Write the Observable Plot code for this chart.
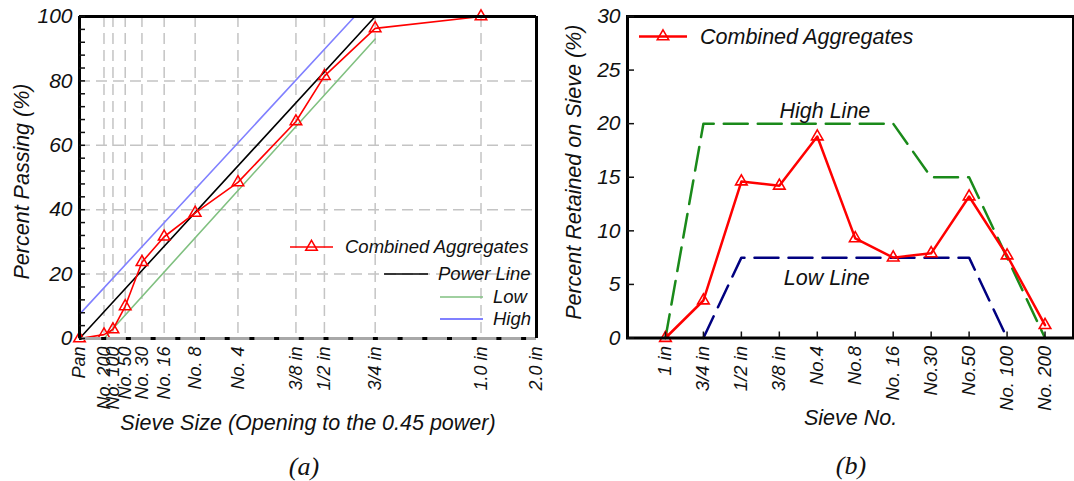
<!DOCTYPE html>
<html><head><meta charset="utf-8">
<script src="https://cdn.jsdelivr.net/npm/d3@7"></script>
<script src="https://cdn.jsdelivr.net/npm/@observablehq/plot@0.6"></script>
<style>
body{margin:0;background:#fff;}
#wrap{position:relative;width:1074px;height:481px;overflow:hidden;}
#wrap svg{position:absolute;top:0;}
.cap{position:absolute;font-family:"Liberation Serif","Times New Roman",serif;font-style:italic;font-size:26px;color:#111;transform:translate(-50%,-50%);white-space:nowrap;}
</style></head><body><div id="wrap"></div>
<script>
// ---------- Chart (a): gradation on 0.45 power chart ----------
const sieveLabelsA = ["Pan","No. 200","No. 100","No. 50","No. 30","No. 16","No. 8","No. 4","3/8 in","1/2 in","3/4 in","1.0 in","2.0 in"];
const sieveOpeningsA = [0, 0.075, 0.15, 0.3, 0.6, 1.18, 2.36, 4.75, 9.5, 12.5, 19, 37.5, 50];
const combinedPassing = [0, 1.2, 2.8, 10, 23.7, 31.6, 39, 48.5, 67.4, 81.5, 96.3, 100];
const powerOpenings = [0, 19];
const powerPassing = [0, 100];
const lowOpenings = [0.075, 19];
const lowPassing = [0, 93];
const highOpenings = [0, 16.2];
const highPassing = [7.5, 100];
const yTicksA = [0, 20, 40, 60, 80, 100];
const xLabelA = "Sieve Size (Opening to the 0.45 power)";
const yLabelA = "Percent Passing (%)";

// ---------- Chart (b): retained on each sieve ----------
const sieveLabelsB = ["1 in","3/4 in","1/2 in","3/8 in","No.4","No.8","No. 16","No.30","No.50","No. 100","No. 200"];
const combinedRetained = [0, 3.5, 14.6, 14.2, 18.8, 9.3, 7.5, 7.9, 13.2, 7.7, 1.2];
const highLineB = [0, 20, 20, 20, 20, 20, 20, 15, 15, 7.5, 0];
const lowLineB = [null, 0, 7.5, 7.5, 7.5, 7.5, 7.5, 7.5, 7.5, 0, null];
const yTicksB = [0, 5, 10, 15, 20, 25, 30];
const annotationsB = [
  {label: "High Line", x: 5.2, y: 21.2},
  {label: "Low Line", x: 5.25, y: 5.55}
];
const xLabelB = "Sieve No.";
const yLabelB = "Percent Retained on Sieve (%)";

const FONT = '"Liberation Sans", Arial, sans-serif';
const baseStyle = {fontFamily: FONT, fontStyle: "italic", fontSize: "18px", color: "#111", background: "transparent", overflow: "visible"};

const pairs = (xs, ys) => xs.map((x, i) => ({x, y: ys[i]}));
const combA = combinedPassing.map((p, i) => ({x: sieveOpeningsA[i], y: p}));
const labelMapA = new Map(sieveOpeningsA.map((d, i) => [d, sieveLabelsA[i]]));
const grid = {stroke: "#c4c4c4", strokeWidth: 1.5, strokeDasharray: "11,6"};

const chartA = Plot.plot({
  width: 540, height: 440,
  marginLeft: 79, marginRight: 4, marginTop: 16, marginBottom: 102,
  style: baseStyle,
  x: {type: "pow", exponent: 0.45, domain: [0, 50], label: null},
  y: {domain: [0, 100], label: null},
  marks: [
    Plot.ruleX(sieveOpeningsA.slice(1, -1), grid),
    Plot.ruleY(yTicksA.slice(1, -1), grid),
    Plot.line(pairs(highOpenings, highPassing), {x: "x", y: "y", stroke: "#8080ff", strokeWidth: 1.6}),
    Plot.line(pairs(lowOpenings, lowPassing), {x: "x", y: "y", stroke: "#80c080", strokeWidth: 1.6}),
    Plot.line(pairs(powerOpenings, powerPassing), {x: "x", y: "y", stroke: "black", strokeWidth: 1.6}),
    Plot.line(combA, {x: "x", y: "y", stroke: "red", strokeWidth: 1.6}),
    Plot.dot(combA, {x: "x", y: "y", symbol: "triangle", r: 4.3, stroke: "red", strokeWidth: 1.5, fill: "none"}),
    Plot.ruleY([0], {stroke: "#a8a8a8", strokeWidth: 3}),
    Plot.ruleY([0], {stroke: "black", strokeWidth: 3, strokeDasharray: "5,19.7", strokeDashoffset: 2.5}),
    Plot.ruleY([100], {stroke: "black", strokeWidth: 3}),
    Plot.ruleX([0, 50], {stroke: "black", strokeWidth: 3}),
    Plot.axisY({ticks: d3.range(0, 101, 4), tickSize: -6, tickFormat: () => "", strokeWidth: 1.5, label: null}),
    Plot.axisY({ticks: yTicksA, tickSize: 0, tickPadding: 7, fontSize: 21, label: null}),
    Plot.axisX({ticks: sieveOpeningsA, tickFormat: d => labelMapA.get(d), tickSize: 0, tickRotate: -90, tickPadding: 8, fontSize: 18, label: null}),
    Plot.text([yLabelA], {text: d => d, frameAnchor: "left", textAnchor: "middle", rotate: -90, dx: -57, dy: 4, fontSize: 21.5}),
    Plot.text([xLabelA], {text: d => d, frameAnchor: "bottom", textAnchor: "middle", dy: 91, fontSize: 21.5})
  ]
});

const combB = combinedRetained.map((v, i) => ({x: i + 1, y: v}));
const highB = highLineB.map((v, i) => ({x: i + 1, y: v}));
const lowB = lowLineB.map((v, i) => ({x: i + 1, y: v})).filter(d => d.y != null);
const idxB = sieveLabelsB.map((_, i) => i + 1);

const chartB = Plot.plot({
  width: 534, height: 440,
  marginLeft: 87, marginRight: 1, marginTop: 16, marginBottom: 102.5,
  style: baseStyle,
  x: {domain: [0, 11.75], label: null},
  y: {domain: [0, 30], label: null},
  marks: [
    Plot.line(highB, {x: "x", y: "y", stroke: "#1a8a1a", strokeWidth: 2.5, strokeDasharray: "24,10"}),
    Plot.line(lowB, {x: "x", y: "y", stroke: "#000080", strokeWidth: 2.5, strokeDasharray: "24,10"}),
    Plot.line(combB, {x: "x", y: "y", stroke: "red", strokeWidth: 2.5}),
    Plot.dot(combB, {x: "x", y: "y", symbol: "triangle", r: 4.3, stroke: "red", strokeWidth: 1.6, fill: "none"}),
    Plot.text(annotationsB, {x: "x", y: "y", text: "label", fontSize: 21.5}),
    Plot.frame({stroke: "black", strokeWidth: 3}),
    Plot.axisY({ticks: yTicksB, tickSize: -7, tickFormat: () => "", strokeWidth: 1.5, label: null}),
    Plot.axisY({ticks: yTicksB, tickSize: 0, tickPadding: 7, fontSize: 21, label: null}),
    Plot.axisX({ticks: idxB, tickSize: -6, tickFormat: () => "", strokeWidth: 1.5, label: null}),
    Plot.axisX({ticks: idxB, tickFormat: i => sieveLabelsB[i - 1], tickSize: 0, tickRotate: -90, tickPadding: 8, fontSize: 18.5, label: null}),
    Plot.text([yLabelB], {text: d => d, frameAnchor: "left", textAnchor: "middle", rotate: -90, dx: -53, dy: -5, fontSize: 21.5}),
    Plot.text([xLabelB], {text: d => d, frameAnchor: "bottom", textAnchor: "middle", dy: 87, fontSize: 21.5})
  ]
});

const wrap = document.getElementById("wrap");
chartA.style.left = "0px";
chartB.style.left = "540px";
wrap.appendChild(chartA);
wrap.appendChild(chartB);

// ---------- Legends ----------
function legendItem(svg, x1, x2, y, color, w, tri, label, tx, fs) {
  const g = d3.select(svg).append("g").attr("text-anchor", "start");
  g.append("line").attr("x1", x1).attr("x2", x2).attr("y1", y).attr("y2", y)
    .attr("stroke", color).attr("stroke-width", w);
  if (tri) {
    g.append("path").attr("d", d3.symbol(d3.symbolTriangle, Math.PI * 4.3 * 4.3)())
      .attr("transform", `translate(${(x1 + x2) / 2},${y})`)
      .attr("fill", "none").attr("stroke", color).attr("stroke-width", 1.5);
  }
  g.append("text").attr("x", tx).attr("y", y).attr("dy", "0.35em")
    .attr("text-anchor", "start")
    .attr("font-size", fs).attr("font-family", FONT).attr("font-style", "italic")
    .attr("fill", "#111").text(label);
}
legendItem(chartA, 290, 333, 247, "red", 1.6, true, "Combined Aggregates", 345, 18.5);
legendItem(chartA, 384, 428, 274, "black", 1.6, false, "Power Line", 438, 18.5);
legendItem(chartA, 440, 483, 297, "#80c080", 1.6, false, "Low", 493, 18.5);
legendItem(chartA, 440, 483, 319, "#8080ff", 2.2, false, "High", 493, 18.5);
legendItem(chartB, 99, 147, 36.5, "red", 2.5, true, "Combined Aggregates", 160, 21.5);

// ---------- Captions ----------
[["(a)", 304, 467], ["(b)", 851, 466]].forEach(([t, x, y]) => {
  const d = document.createElement("div");
  d.className = "cap"; d.textContent = t;
  d.style.left = x + "px"; d.style.top = y + "px";
  wrap.appendChild(d);
});
</script></body></html>
